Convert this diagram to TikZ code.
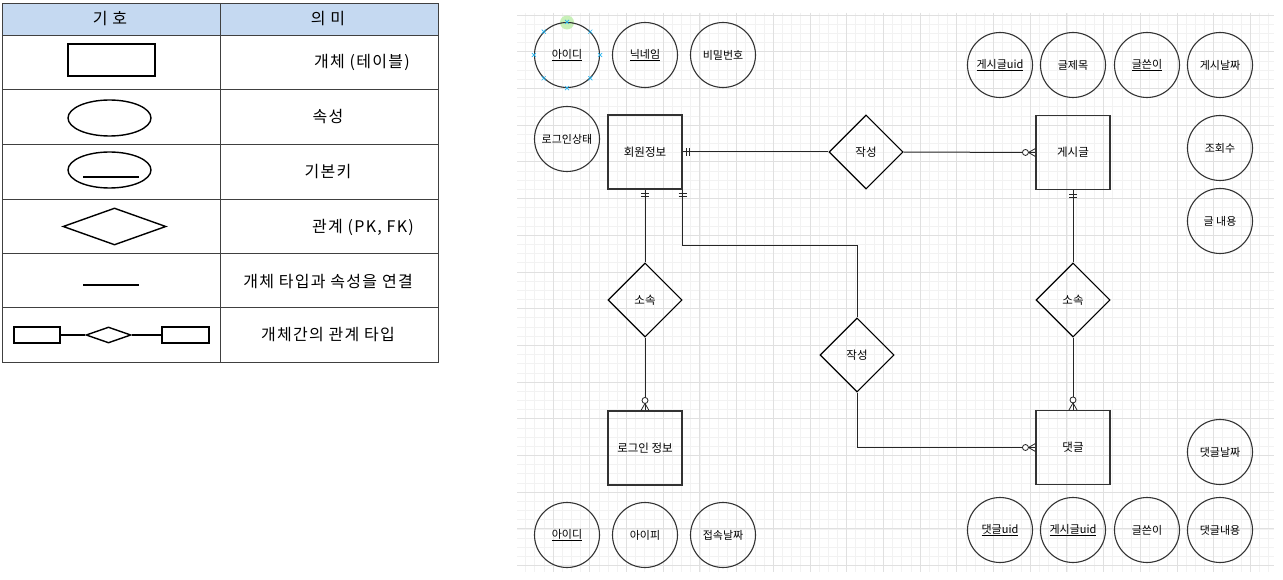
\documentclass[tikz,border=0pt]{standalone}
\usepackage{fontspec}
\setmainfont{Noto Sans CJK KR}
\usetikzlibrary{shapes.geometric, decorations.markings}

\definecolor{headblue}{HTML}{C5D9F1}
\definecolor{gridmajor}{HTML}{E0E0E0}
\definecolor{gridminor}{HTML}{F2F2F2}
\definecolor{handleblue}{HTML}{29B6F2}
\definecolor{handlegreen}{HTML}{C8F0B8}

\newcommand{\keyattr}[1]{\underline{#1}}

\tikzset{
  legtext/.style={font=\fontsize{16}{18}\selectfont\addfontfeature{LetterSpace=8}},
  legshape/.style={draw=black, line width=1.4pt, inner sep=0pt},
  entity/.style={draw=black!80, line width=1.1pt, minimum size=74pt, inner sep=0pt,
    font=\fontsize{11.5}{13}\selectfont},
  attr/.style={circle, draw=black!80, line width=1.1pt, minimum size=65pt, inner sep=0pt,
    font=\fontsize{11}{13}\selectfont},
  rel/.style={diamond, draw=black, line width=1.1pt, minimum width=74pt, minimum height=74pt,
    inner sep=0pt, font=\fontsize{11.5}{13}\selectfont},
  conn/.style={line width=1pt, draw=black!85},
  one/.style={postaction={decorate, decoration={markings,
    mark=at position 4pt with {\draw[line width=0.8pt] (0,-4pt) -- (0,4pt);},
    mark=at position 7pt with {\draw[line width=0.8pt] (0,-4pt) -- (0,4pt);}}}},
  many/.style={postaction={decorate, decoration={markings,
    mark=at position 1 with {\draw[line width=0.8pt] (-7pt,0) -- (0,4pt) (-7pt,0) -- (0,-4pt);
      \draw[line width=0.8pt, fill=white] (-10pt,0) circle (3pt);}}}},
}

\begin{document}
\begin{tikzpicture}[x=1pt, y=-1pt]
    \useasboundingbox[fill=white] (0,0) rectangle (1283,580);

    % 범례 표
    \fill[headblue] (2,3) rectangle (438,35);
    \draw[black!75] (2,3) rectangle (438,362);
    \foreach \y in {35,89,144,199,253,307}
        \draw[black!75] (2,\y) -- (438,\y);
    \draw[black!75] (220,3) -- (220,362);

    \node[legtext] (legSym) at (110,19) {기 호};
    \node[legtext] (legMean) at (328,19) {의 미};

    \node[legshape, minimum width=87pt, minimum height=32pt] (legEntity) at (111.5,60) {};
    \node[legtext] (legEntityTxt) at (362,62) {개체 (테이블)};

    \node[legshape, ellipse, minimum width=83pt, minimum height=36pt] (legAttr) at (109.5,118) {};
    \node[legtext] (legAttrTxt) at (328,117) {속성};

    \node[legshape, ellipse, minimum width=83pt, minimum height=36pt] (legKey) at (109.5,170) {};
    \draw[line width=1.4pt] (83,177) -- (139,177);
    \node[legtext] (legKeyTxt) at (328,172) {기본키};

    \node[legshape, diamond, minimum width=103pt, minimum height=37pt] (legRel) at (114.5,226.5) {};
    \node[legtext] (legRelTxt) at (363,227) {관계 (PK, FK)};

    \draw[line width=1.4pt] (83,285) -- (139,285);
    \node[legtext] (legLineTxt) at (328,282) {개체 타입과 속성을 연결};

    \node[legshape, minimum width=46pt, minimum height=16pt] (legLeft) at (37,335) {};
    \node[legshape, diamond, minimum width=45pt, minimum height=16pt] (legMid) at (108.5,335) {};
    \node[legshape, minimum width=47pt, minimum height=16pt] (legRight) at (185.5,335) {};
    \draw[line width=1.4pt] (legLeft) -- (legMid) -- (legRight);
    \node[legtext] (legPairTxt) at (328,335) {개체간의 관계 타입};

    % 격자
    \begin{scope}
        \clip (517,13) rectangle (1274,572);
        \foreach \k in {0,...,83}
            \draw[gridminor, line width=0.6pt] ({516.3+9.175*\k},13) -- ({516.3+9.175*\k},572);
        \foreach \k in {-1,...,61}
            \draw[gridminor, line width=0.6pt] (517,{15+9.175*\k}) -- (1274,{15+9.175*\k});
        \foreach \k in {0,...,21}
            \draw[gridmajor, line width=0.7pt] ({516.3+36.7*\k},13) -- ({516.3+36.7*\k},572);
        \foreach \k in {0,...,15}
            \draw[gridmajor, line width=0.7pt] (517,{15+36.7*\k}) -- (1274,{15+36.7*\k});
    \end{scope}

    % 개체
    \node[entity] (member) at (645,152) {회원정보};
    \node[entity] (post) at (1073,152.5) {게시글};
    \node[entity] (login) at (645,448) {로그인 정보};
    \node[entity] (reply) at (1073,447.5) {댓글};

    % 관계
    \node[rel] (write1) at (866,152) {작성};
    \node[rel] (belong1) at (645,300) {소속};
    \node[rel] (write2) at (857,355) {작성};
    \node[rel] (belong2) at (1073,300) {소속};

    % 속성: 회원정보
    \fill[handlegreen] (567,22.5) circle (7);
    \node[attr] (idTop) at (567,55) {\keyattr{아이디}};
    \node[attr] (nick) at (645,55) {\keyattr{닉네임}};
    \node[attr] (pw) at (723,55) {비밀번호};
    \node[attr] (loginState) at (567,139) {로그인상태};
    \foreach \a in {0,45,...,315}
        \draw[handleblue, line width=0.7pt] ([shift={(-2,-2)}]idTop.\a) -- ++(4,4)
            ([shift={(-2,2)}]idTop.\a) -- ++(4,-4);

    % 속성: 게시글
    \node[attr] (postUid) at (1000,65) {\keyattr{게시글uid}};
    \node[attr] (title) at (1073,65) {글제목};
    \node[attr] (writerTop) at (1147,65) {\keyattr{글쓴이}};
    \node[attr] (postDate) at (1220,65) {게시날짜};
    \node[attr] (views) at (1220,148) {조회수};
    \node[attr] (content) at (1220,221) {글 내용};

    % 속성: 로그인 정보
    \node[attr] (idBottom) at (567,535) {\keyattr{아이디}};
    \node[attr] (ip) at (645,535) {아이피};
    \node[attr] (accessDate) at (723,535) {접속날짜};

    % 속성: 댓글
    \node[attr] (replyDate) at (1220,452) {댓글날짜};
    \node[attr] (replyUid) at (1000,530) {\keyattr{댓글uid}};
    \node[attr] (postUid2) at (1073,530) {\keyattr{게시글uid}};
    \node[attr] (writerBottom) at (1147,530) {글쓴이};
    \node[attr] (replyText) at (1220,530) {댓글내용};

    % 연결선
    \draw[conn, one] (member.east) -- (write1.west);
    \draw[conn, many] (write1.east) -- (post.west);
    \draw[conn, one] (member.south) -- (belong1.north);
    \draw[conn, many] (belong1.south) -- (login.north);
    \draw[conn, one] (member.south east) -- ++(0,56) -| (write2.north);
    \draw[conn, many] (write2.south) |- (reply.west);
    \draw[conn, one] (post.south) -- (belong2.north);
    \draw[conn, many] (belong2.south) -- (reply.north);
\end{tikzpicture}
\end{document}
